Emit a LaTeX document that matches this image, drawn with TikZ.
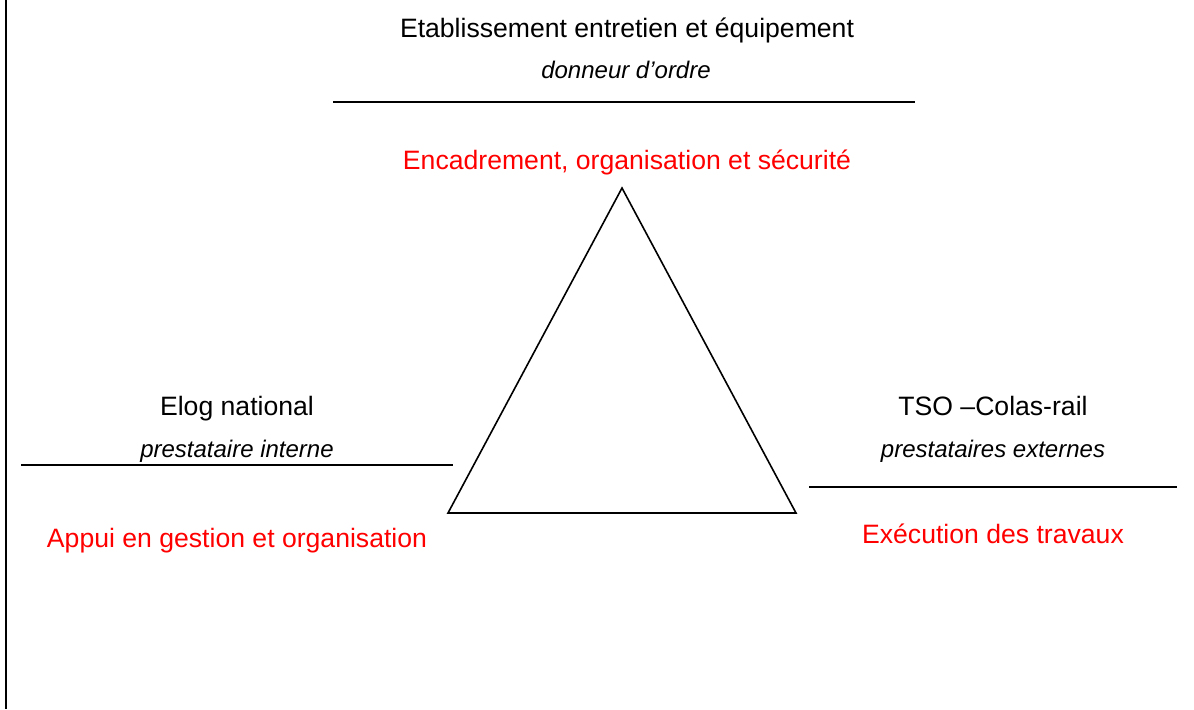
\documentclass[tikz,border=0pt]{standalone}
\usepackage{fontspec}
\setmainfont{Liberation Sans}
\usepackage{color}
\usepackage{tikz}
\definecolor{rouge}{HTML}{FF0000}

\begin{document}
\begin{tikzpicture}[x=0.5pt, y=-0.5pt, line width=0.8pt,
  titre/.style={anchor=base, inner sep=0pt, font=\fontsize{13.3}{16}\selectfont},
  role/.style={anchor=base, inner sep=0pt, font=\fontsize{12}{14}\selectfont\itshape},
  tache/.style={anchor=base, inner sep=0pt, text=rouge, font=\fontsize{13.3}{16}\selectfont}]
\useasboundingbox (0,0) rectangle (1194,709) ;
% bord gauche
\coordinate (H) at (6,0) ;
\coordinate (K) at (6,709) ;
\draw[line width=1pt] (H) -- (K) ;
% triangle
\coordinate (A) at (622,188) ;
\coordinate (B) at (448,513) ;
\coordinate (C) at (796,513) ;
\draw (A) -- (B) -- (C) -- cycle ;
% bloc etablissement
\coordinate (E1) at (333,102) ;
\coordinate (E2) at (915,102) ;
\draw (E1) -- (E2) ;
\node[titre] (eee) at (627,37) {Etablissement entretien et équipement} ;
\node[role] (ordre) at (626,78) {donneur d’ordre} ;
\node[tache] (encadrement) at (627,169) {Encadrement, organisation et sécurité} ;
% bloc Elog
\coordinate (L1) at (21,465) ;
\coordinate (L2) at (453,465) ;
\draw (L1) -- (L2) ;
\node[titre] (elog) at (237,415) {Elog national} ;
\node[role] (interne) at (237,457) {prestataire interne} ;
\node[tache] (appui) at (237,547) {Appui en gestion et organisation} ;
% bloc TSO
\coordinate (R1) at (809,487) ;
\coordinate (R2) at (1177,487) ;
\draw (R1) -- (R2) ;
\node[titre] (tso) at (993,415) {TSO –Colas-rail} ;
\node[role] (externes) at (993,457) {prestataires externes} ;
\node[tache] (execution) at (993,543) {Exécution des travaux} ;
\end{tikzpicture}
\end{document}
